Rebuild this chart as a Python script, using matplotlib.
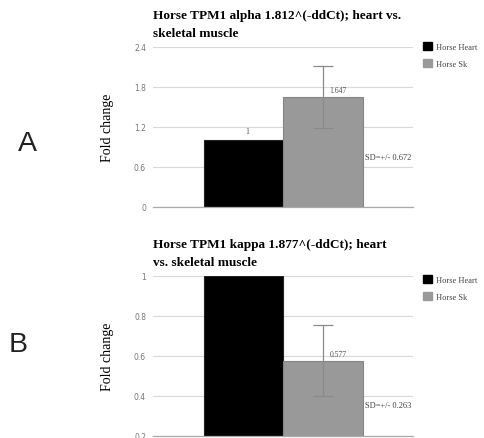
import numpy as np
import matplotlib
matplotlib.use("Agg")
import matplotlib.pyplot as plt
from matplotlib.patches import Patch

categories = ["Horse Heart", "Horse Sk"]
bar_colors = ["#000000", "#999999"]

alpha_title = "Horse TPM1 alpha 1.812^(-ddCt); heart vs.\nskeletal muscle"
alpha_values = [1.0, 1.647]
alpha_labels = ["1", "1.647"]
alpha_whisker = (1.19, 2.11)  # low, high of the Sk error bar
alpha_sd = "SD=+/- 0.672"
alpha_ticks = [0, 0.6, 1.2, 1.8, 2.4]

kappa_title = "Horse TPM1 kappa 1.877^(-ddCt); heart\nvs. skeletal muscle"
kappa_values = [1.0, 0.577]
kappa_labels = ["1", "0.577"]
kappa_whisker = (0.40, 0.757)
kappa_sd = "SD=+/- 0.263"
kappa_ticks = [0.2, 0.4, 0.6, 0.8, 1.0]

W, H = 485, 439
SERIF = "Liberation Serif"


def px_box(x0, y0, x1, y1):
    # pixel box (top-left origin) -> figure fraction rect
    return [x0 / W, 1 - y1 / H, (x1 - x0) / W, (y1 - y0) / H]


def draw_panel(fig, rect, title, values, labels, whisker, sd_text, sd_y, ticks,
               ylim, legend_xy, show_heart_label):
    ax = fig.add_axes(rect)
    x = np.arange(len(values))
    ax.bar(x, values, width=1.0, color=bar_colors,
           edgecolor=["#222222", "#858585"], linewidth=0.8, zorder=2)
    lo, hi = whisker
    ax.errorbar([x[1]], [values[1]], yerr=[[values[1] - lo], [hi - values[1]]],
                fmt="none", ecolor="#8a8a8a", elinewidth=0.9, capsize=7,
                capthick=0.9, zorder=3)

    if show_heart_label:
        ax.annotate(labels[0], (x[0] + 0.05, values[0]), xytext=(0, 4),
                    textcoords="offset points", ha="center", va="bottom",
                    fontsize=5.5, family=SERIF, color="#555555")
    ax.annotate(labels[1], (x[1] + 0.19, values[1]), xytext=(0, 2),
                textcoords="offset points", ha="center", va="bottom",
                fontsize=5.5, family=SERIF, color="#555555", zorder=4)
    ax.text(1.53, sd_y, sd_text, fontsize=6, family=SERIF, color="#444444",
            ha="left", va="center")

    ax.set_xlim(-1.14, 2.13)
    ax.set_ylim(*ylim)
    ax.set_yticks(ticks)
    ax.set_yticklabels([f"{t:g}" for t in ticks])
    ax.tick_params(axis="y", length=0, pad=5, labelsize=5.5, labelcolor="#777777")
    ax.set_xticks([])
    ax.grid(axis="y", color="#d9d9d9", linewidth=0.8, zorder=0)
    for s in ("left", "right", "top"):
        ax.spines[s].set_visible(False)
    ax.spines["bottom"].set_color("#aaaaaa")
    ax.spines["bottom"].set_linewidth(0.9)

    ax.set_ylabel("Fold change", family=SERIF, fontsize=10)
    ax.yaxis.set_label_coords(-39 / 260, 0.5)

    ax.set_title(title, loc="left", family=SERIF, fontweight="bold",
                 fontsize=9.5, linespacing=1.6, pad=8)

    handles = [Patch(facecolor=c, edgecolor=c) for c in bar_colors]
    fig.legend(handles, categories, loc="upper left",
               bbox_to_anchor=(legend_xy[0] / W, 1 - legend_xy[1] / H),
               frameon=False, prop={"family": SERIF, "size": 6},
               handlelength=1.1, handleheight=1.1, handletextpad=0.5,
               labelspacing=1.0, borderpad=0, borderaxespad=0,
               labelcolor="#444444")
    return ax


fig = plt.figure(figsize=(W / 100, H / 100), dpi=100)

draw_panel(fig, px_box(153, 48, 413, 208), alpha_title, alpha_values,
           alpha_labels, alpha_whisker, alpha_sd, 0.75, alpha_ticks, (0, 2.4),
           (423, 43), True)
draw_panel(fig, px_box(153, 277, 413, 437), kappa_title, kappa_values,
           kappa_labels, kappa_whisker, kappa_sd, 0.355, kappa_ticks, (0.2, 1.0),
           (423, 276), False)

fig.text(27 / W, 1 - 144 / H, "A", fontsize=20.5, family="Liberation Sans",
         ha="center", va="center", color="#222222")
fig.text(18.5 / W, 1 - 345 / H, "B", fontsize=20.5, family="Liberation Sans",
         ha="center", va="center", color="#222222")

fig.savefig("out.png", dpi=100)
